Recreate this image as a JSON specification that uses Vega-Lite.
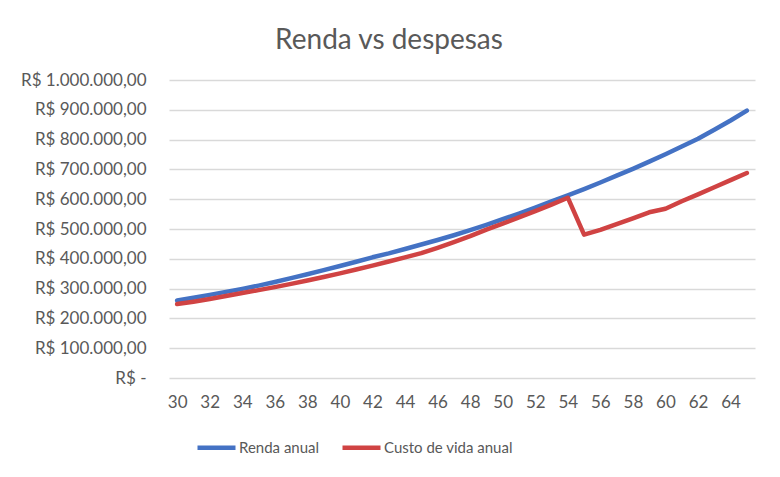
{
  "$schema": "https://vega.github.io/schema/vega-lite/v6.json",
  "background": "white",
  "autosize": "none",
  "width": 586,
  "height": 298,
  "padding": {"left": 169, "top": 80, "right": 25, "bottom": 99},
  "title": {
    "text": "Renda vs despesas",
    "font": "Lato",
    "fontSize": 28,
    "fontWeight": "normal",
    "color": "#595959",
    "anchor": "middle",
    "baseline": "alphabetic",
    "offset": 33,
    "dx": -73,
    "dy": 39
  },
  "data": {
    "values": [
      {"idade": 30, "serie": "Renda anual", "valor": 260000},
      {"idade": 31, "serie": "Renda anual", "valor": 269000},
      {"idade": 32, "serie": "Renda anual", "valor": 279000},
      {"idade": 33, "serie": "Renda anual", "valor": 289000},
      {"idade": 34, "serie": "Renda anual", "valor": 299000},
      {"idade": 35, "serie": "Renda anual", "valor": 310000},
      {"idade": 36, "serie": "Renda anual", "valor": 322000},
      {"idade": 37, "serie": "Renda anual", "valor": 335000},
      {"idade": 38, "serie": "Renda anual", "valor": 348000},
      {"idade": 39, "serie": "Renda anual", "valor": 362000},
      {"idade": 40, "serie": "Renda anual", "valor": 376000},
      {"idade": 41, "serie": "Renda anual", "valor": 390000},
      {"idade": 42, "serie": "Renda anual", "valor": 405000},
      {"idade": 43, "serie": "Renda anual", "valor": 418000},
      {"idade": 44, "serie": "Renda anual", "valor": 433000},
      {"idade": 45, "serie": "Renda anual", "valor": 448000},
      {"idade": 46, "serie": "Renda anual", "valor": 463000},
      {"idade": 47, "serie": "Renda anual", "valor": 479000},
      {"idade": 48, "serie": "Renda anual", "valor": 496000},
      {"idade": 49, "serie": "Renda anual", "valor": 514000},
      {"idade": 50, "serie": "Renda anual", "valor": 533000},
      {"idade": 51, "serie": "Renda anual", "valor": 552000},
      {"idade": 52, "serie": "Renda anual", "valor": 572000},
      {"idade": 53, "serie": "Renda anual", "valor": 593000},
      {"idade": 54, "serie": "Renda anual", "valor": 613000},
      {"idade": 55, "serie": "Renda anual", "valor": 634000},
      {"idade": 56, "serie": "Renda anual", "valor": 656000},
      {"idade": 57, "serie": "Renda anual", "valor": 679000},
      {"idade": 58, "serie": "Renda anual", "valor": 702000},
      {"idade": 59, "serie": "Renda anual", "valor": 726000},
      {"idade": 60, "serie": "Renda anual", "valor": 751000},
      {"idade": 61, "serie": "Renda anual", "valor": 777000},
      {"idade": 62, "serie": "Renda anual", "valor": 803000},
      {"idade": 63, "serie": "Renda anual", "valor": 833000},
      {"idade": 64, "serie": "Renda anual", "valor": 864000},
      {"idade": 65, "serie": "Renda anual", "valor": 897000},
      {"idade": 30, "serie": "Custo de vida anual", "valor": 248000},
      {"idade": 31, "serie": "Custo de vida anual", "valor": 256000},
      {"idade": 32, "serie": "Custo de vida anual", "valor": 265000},
      {"idade": 33, "serie": "Custo de vida anual", "valor": 275000},
      {"idade": 34, "serie": "Custo de vida anual", "valor": 285000},
      {"idade": 35, "serie": "Custo de vida anual", "valor": 295000},
      {"idade": 36, "serie": "Custo de vida anual", "valor": 305000},
      {"idade": 37, "serie": "Custo de vida anual", "valor": 316000},
      {"idade": 38, "serie": "Custo de vida anual", "valor": 327000},
      {"idade": 39, "serie": "Custo de vida anual", "valor": 339000},
      {"idade": 40, "serie": "Custo de vida anual", "valor": 351000},
      {"idade": 41, "serie": "Custo de vida anual", "valor": 364000},
      {"idade": 42, "serie": "Custo de vida anual", "valor": 377000},
      {"idade": 43, "serie": "Custo de vida anual", "valor": 391000},
      {"idade": 44, "serie": "Custo de vida anual", "valor": 405000},
      {"idade": 45, "serie": "Custo de vida anual", "valor": 419000},
      {"idade": 46, "serie": "Custo de vida anual", "valor": 437000},
      {"idade": 47, "serie": "Custo de vida anual", "valor": 456000},
      {"idade": 48, "serie": "Custo de vida anual", "valor": 476000},
      {"idade": 49, "serie": "Custo de vida anual", "valor": 498000},
      {"idade": 50, "serie": "Custo de vida anual", "valor": 518000},
      {"idade": 51, "serie": "Custo de vida anual", "valor": 539000},
      {"idade": 52, "serie": "Custo de vida anual", "valor": 560000},
      {"idade": 53, "serie": "Custo de vida anual", "valor": 582000},
      {"idade": 54, "serie": "Custo de vida anual", "valor": 605000},
      {"idade": 55, "serie": "Custo de vida anual", "valor": 481000},
      {"idade": 56, "serie": "Custo de vida anual", "valor": 497000},
      {"idade": 57, "serie": "Custo de vida anual", "valor": 516000},
      {"idade": 58, "serie": "Custo de vida anual", "valor": 536000},
      {"idade": 59, "serie": "Custo de vida anual", "valor": 556000},
      {"idade": 60, "serie": "Custo de vida anual", "valor": 568000},
      {"idade": 61, "serie": "Custo de vida anual", "valor": 593000},
      {"idade": 62, "serie": "Custo de vida anual", "valor": 616000},
      {"idade": 63, "serie": "Custo de vida anual", "valor": 640000},
      {"idade": 64, "serie": "Custo de vida anual", "valor": 664000},
      {"idade": 65, "serie": "Custo de vida anual", "valor": 688000}
    ]
  },
  "mark": {"type": "line", "strokeWidth": 4.5, "strokeCap": "round", "strokeJoin": "round"},
  "encoding": {
    "x": {
      "field": "idade",
      "type": "quantitative",
      "scale": {"domain": [29.5, 65.5], "nice": false, "zero": false},
      "axis": {
        "title": null,
        "values": [30, 32, 34, 36, 38, 40, 42, 44, 46, 48, 50, 52, 54, 56, 58, 60, 62, 64],
        "grid": false,
        "ticks": false,
        "domain": false,
        "labelPadding": 16
      }
    },
    "y": {
      "field": "valor",
      "type": "quantitative",
      "scale": {"domain": [0, 1000000], "nice": false},
      "axis": {
        "title": null,
        "values": [0, 100000, 200000, 300000, 400000, 500000, 600000, 700000, 800000, 900000, 1000000],
        "format": "$,.2f",
        "labelExpr": "datum.value == 0 ? 'R$ -\u00a0\u00a0\u00a0' : datum.label",
        "ticks": false,
        "domain": false,
        "labelPadding": 23
      }
    },
    "color": {
      "field": "serie",
      "type": "nominal",
      "sort": ["Renda anual", "Custo de vida anual"],
      "scale": {"domain": ["Renda anual", "Custo de vida anual"], "range": ["#4472C4", "#D04343"]},
      "legend": {
        "title": null,
        "orient": "none",
        "direction": "horizontal",
        "legendX": 26,
        "legendY": 346,
        "symbolType": "stroke",
        "symbolSize": 1444,
        "symbolStrokeWidth": 4.5,
        "labelOffset": 1,
        "columnPadding": 13,
        "labelFontSize": 15
      }
    }
  },
  "config": {
    "locale": {
      "number": {"decimal": ",", "thousands": ".", "grouping": [3], "currency": ["R$ ", ""]}
    },
    "view": {"stroke": null},
    "font": "Lato",
    "axis": {
      "labelFont": "Lato",
      "labelFontSize": 17,
      "labelColor": "#595959",
      "gridColor": "#d9d9d9",
      "gridWidth": 1.5
    },
    "legend": {"labelFont": "Lato", "labelColor": "#595959"}
  }
}
